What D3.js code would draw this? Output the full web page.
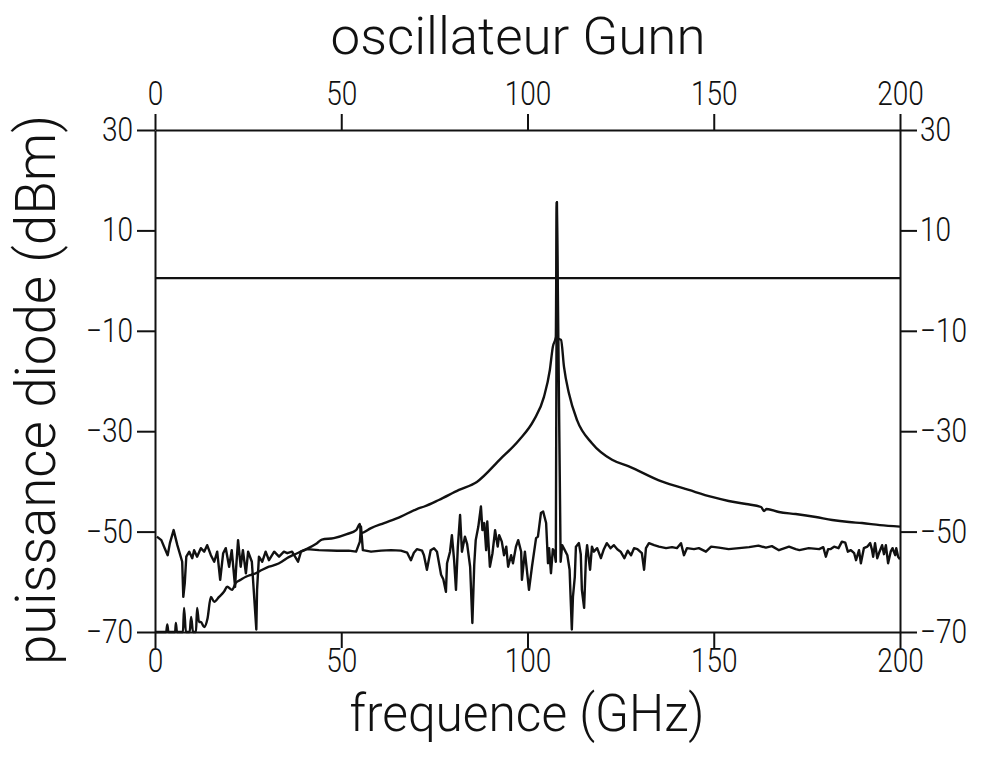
<!DOCTYPE html>
<html>
<head>
<meta charset="utf-8">
<script src="https://cdn.jsdelivr.net/npm/d3@7"></script>
<style>
  html, body { margin: 0; padding: 0; background: #fff; }
  text { font-family: Roboto, "Liberation Sans", sans-serif; font-weight: 300; fill: #111; }
</style>
</head>
<body>
<div id="chart"></div>
<script>
document.addEventListener('DOMContentLoaded', () => {

  // frequency ticks (GHz) and power ticks (dBm)
  const freqTicks = [0, 50, 100, 150, 200];
  const powerTicks = [-70, -50, -30, -10, 10, 30];

  // reference level of the Gunn oscillator (dBm)
  const refLevel = 0.5;

  // resonance response (GHz, dBm)
  const respFreq = [0, 3, 3.3, 3.6, 5.4, 5.6, 5.9, 7.5, 7.8, 8.3, 9.3, 9.7, 10.2, 11, 11.3, 11.8, 12.3, 13.2, 14.1, 15,
    15.9, 17.2, 18.5, 19.4, 20.7, 21.7, 23, 24.4, 25.8, 27, 28.8, 30.6, 32.4, 34, 35.4, 37, 40, 43.5, 44.8, 48,
    51.5, 54, 55, 55.3, 58, 61.5, 66, 70.3, 72.3, 76.2, 81.6, 86.4, 92.5, 97.7, 101.7, 104.4, 106, 106.8, 107.6, 107.85,
    108.1, 109, 109.8, 111.1, 113.3, 117.3, 122.7, 127.2, 136, 143.3, 149.5, 154, 158.7, 162.7, 163.5, 164.2, 167.5, 172, 177.4, 181.8,
    186.3, 189.8, 194.6, 200];
  const respDb = [-70, -70, -68.5, -70, -70, -68.2, -70, -70, -65.2, -70, -70, -67, -70, -70, -65.2, -68, -68, -69, -67.3, -63,
    -64, -63, -62, -61, -61.6, -60.2, -59.6, -59, -58.6, -58.3, -57.6, -57, -56.6, -56, -55.3, -54.7, -53.7, -52.3, -51.6, -51.3,
    -50.5, -49.7, -48.5, -50.3, -49.3, -48.3, -47, -45.5, -45, -43.7, -41.7, -40.1, -35.7, -31.8, -27.8, -23.2, -17.8, -13.2, -11.2, 15.6,
    -11.5, -11.8, -17.2, -22.4, -27.8, -32.4, -35.7, -37, -40, -41.7, -43.1, -43.9, -44.5, -45.1, -45.9, -45.5, -46.1, -46.5, -47.1, -47.7,
    -48.1, -48.3, -48.7, -49];

  // diode noise floor (GHz, dBm)
  const noiseFreq = [0.5, 1.7, 2.6, 3.4, 4, 5, 6, 7.3, 7.6, 8, 8.4, 9.2, 10, 10.5, 11.3, 12.3, 13.2, 14, 15, 15.9,
    16.7, 17.5, 18.3, 19, 19.9, 20.6, 21.5, 21.8, 22.3, 23, 23.6, 24.4, 25, 26, 27.2, 27.4, 27.9, 28.8, 29.7, 30.6,
    32, 33.3, 34.6, 35.5, 36.8, 38.4, 39.2, 40.8, 44, 48.9, 52, 54, 55, 55.3, 55.8, 58, 60.7, 63.4, 66, 67.7,
    68.7, 69.5, 70.3, 71.7, 72.2, 73, 74, 74.9, 75.7, 76.8, 77.4, 78.1, 78.4, 79.2, 79.7, 80.3, 80.8, 81.3, 81.9, 82.4,
    83.2, 83.8, 84.6, 85.2, 85.7, 86.1, 86.8, 87.5, 87.9, 88.4, 88.9, 89.2, 89.9, 90.6, 91.3, 92, 92.4, 93.1, 93.7, 94.3,
    94.8, 95.6, 96.1, 96.9, 97.5, 98.3, 98.5, 99.3, 100.4, 101.2, 102.3, 102.8, 103.6, 104.2, 105, 105.5, 105.8, 106.3, 106.8, 107.2,
    107.6, 107.9, 108.9, 109.3, 110, 110.7, 111.3, 111.6, 111.9, 112.2, 112.7, 113, 113.8, 114.3, 114.6, 115.2, 115.7, 116, 116.8, 117.3,
    117.8, 118.7, 119.7, 120.5, 121.3, 122.3, 123.2, 124.1, 125, 126, 126.9, 127.8, 128.6, 129.5, 130.7, 131.3, 131.8, 132.6, 134, 135.3,
    137.2, 138.8, 140.1, 141.2, 142, 142.8, 144.7, 146, 147.9, 149.3, 151.4, 154, 156.8, 159.5, 162, 164, 165.6, 167.5, 170.2, 172,
    173, 175.5, 178.3, 179.4, 180.1, 180.7, 181.3, 182.3, 183.5, 184.4, 185.3, 186, 186.8, 187.7, 188.2, 189, 189.5, 190.3, 191.2, 192,
    192.5, 192.8, 193.3, 193.9, 194.5, 195.2, 195.7, 196.2, 196.8, 197.5, 198, 198.7, 199, 199.5, 200];
  const noiseDb = [-51, -51.7, -53.3, -54.7, -52.3, -49.7, -52.7, -56, -63, -60.2, -55, -54, -55.3, -53.7, -55, -53.3, -54, -52.7, -54.7, -56,
    -54, -59.6, -54.3, -53.3, -57, -53.7, -61, -57, -51.7, -57, -53.7, -58.3, -54, -56, -69.5, -61.6, -55, -56, -54, -55.7,
    -54, -55, -54, -54.3, -54, -56, -54, -53.5, -53.7, -53.8, -53.8, -54, -52, -49, -53.7, -54, -53.8, -53.7, -53.8, -54.2,
    -55.7, -54.2, -53.5, -53.8, -54.7, -57.6, -53.7, -53.3, -54, -58.6, -59.5, -62, -56.3, -54, -50.7, -55.7, -61.6, -53, -46.7, -54,
    -51, -52.5, -57, -68.2, -56.6, -51.7, -49, -45, -49.7, -48.3, -53.7, -48, -57, -54.3, -49.7, -53, -50.7, -52, -54.7, -53,
    -57, -54.7, -56.3, -53, -51.7, -54, -59.6, -54, -61.6, -57, -51.3, -51, -46.3, -46, -48.3, -56.3, -53.3, -58.3, -53.5, -54,
    -56, 15.6, -56, -52.7, -53.7, -54.7, -57.6, -63.6, -69.5, -63, -59, -53, -52.3, -54.5, -61.6, -65.2, -55, -52.7, -57.6, -53,
    -54, -53.3, -55.3, -53.5, -52.3, -53.3, -52.7, -53.5, -54, -55.3, -53.8, -54.7, -53.3, -53.5, -54.3, -57.6, -53.3, -52.3, -52.7, -53,
    -53.3, -53.1, -53.3, -52.3, -54.7, -53.3, -53.5, -53.3, -54, -53, -53.2, -53.5, -53.3, -53.1, -52.8, -53.2, -52.9, -53.7, -53, -53.5,
    -53.7, -53.3, -53.5, -53.1, -55, -53.5, -53.5, -53, -53.3, -52, -52.2, -54, -53.7, -54.3, -55.7, -53.7, -56.3, -53.3, -53, -52.3,
    -53.7, -55, -52.3, -55.3, -54, -52.7, -54.5, -52.7, -56.3, -54, -53.3, -54.7, -53.3, -55, -55.5];

  const width = 982;
  const height = 764;
  const margin = { top: 130, right: 82, bottom: 132, left: 155 };

  const svg = d3.select('#chart')
                .append('svg')
                .attr('width', width)
                .attr('height', height);

  const xScale = d3.scaleLinear()
                   .domain([0, 200])
                   .range([margin.left, width - margin.right]);

  const yScale = d3.scaleLinear()
                   .domain([-70, 30])
                   .range([height - margin.bottom, margin.top]);

  const tickFont = 33;
  const squeeze = 0.85;

  const xBottom = d3.axisBottom(xScale).tickValues(freqTicks).tickSize(16).tickSizeOuter(0).tickPadding(1);
  const xTop = d3.axisTop(xScale).tickValues(freqTicks).tickSize(16).tickSizeOuter(0).tickPadding(9);
  const yLeft = d3.axisLeft(yScale).tickValues(powerTicks).tickSize(18).tickSizeOuter(0).tickPadding(4);
  const yRight = d3.axisRight(yScale).tickValues(powerTicks).tickSize(17).tickSizeOuter(0).tickPadding(3);

  const axes = [
    [xBottom, 'translate(0,' + (height - margin.bottom) + ')'],
    [xTop, 'translate(0,' + margin.top + ')'],
    [yLeft, 'translate(' + margin.left + ',0)'],
    [yRight, 'translate(' + (width - margin.right) + ',0)']
  ];

  axes.forEach(([ax, tr]) => {
    const g = svg.append('g')
                 .attr('transform', tr)
                 .call(ax);
    g.select('.domain').attr('stroke', '#111').attr('stroke-width', 2);
    g.selectAll('.tick line').attr('stroke', '#111').attr('stroke-width', 2);
    g.selectAll('.tick text')
     .attr('font-size', tickFont)
     .style('font-family', 'Roboto, "Liberation Sans", sans-serif')
     .style('font-weight', 300)
     .attr('fill', '#111')
     .each(function() {
       // narrow the glyphs like the plotter lettering
       const t = d3.select(this);
       const x = +t.attr('x') || 0;
       t.attr('x', x / squeeze).attr('transform', 'scale(' + squeeze + ',1)');
     });
  });

  // reference level line
  svg.append('line')
     .attr('x1', xScale(0))
     .attr('x2', xScale(200))
     .attr('y1', yScale(refLevel))
     .attr('y2', yScale(refLevel))
     .attr('stroke', '#111')
     .attr('stroke-width', 2.4);

  const respLine = d3.line()
                     .x(d => xScale(d[0]))
                     .y(d => yScale(d[1]))
                     .curve(d3.curveMonotoneX);

  const noiseLine = d3.line()
                      .x(d => xScale(d[0]))
                      .y(d => yScale(d[1]));

  const respData = respFreq.map((f, i) => [f, respDb[i]]);
  const noiseData = noiseFreq.map((f, i) => [f, noiseDb[i]]);

  svg.append('path')
     .datum(respData)
     .attr('fill', 'none')
     .attr('stroke', '#111')
     .attr('stroke-width', 2.4)
     .attr('stroke-linejoin', 'round')
     .attr('d', respLine);

  svg.append('path')
     .datum(noiseData)
     .attr('fill', 'none')
     .attr('stroke', '#111')
     .attr('stroke-width', 2.4)
     .attr('stroke-linejoin', 'round')
     .attr('d', noiseLine);

  // titles
  svg.append('text')
     .attr('x', 518)
     .attr('y', 54)
     .attr('text-anchor', 'middle')
     .attr('font-size', 52)
     .attr('textLength', 375)
     .attr('lengthAdjust', 'spacingAndGlyphs')
     .text('oscillateur Gunn');

  svg.append('text')
     .attr('x', 527)
     .attr('y', 731)
     .attr('text-anchor', 'middle')
     .attr('font-size', 52)
     .attr('textLength', 355)
     .attr('lengthAdjust', 'spacingAndGlyphs')
     .text('frequence (GHz)');

  svg.append('text')
     .attr('transform', 'translate(55,390) rotate(-90)')
     .attr('text-anchor', 'middle')
     .attr('font-size', 55)
     .attr('textLength', 550)
     .attr('lengthAdjust', 'spacingAndGlyphs')
     .text('puissance diode (dBm)');

});
</script>
</body>
</html>
